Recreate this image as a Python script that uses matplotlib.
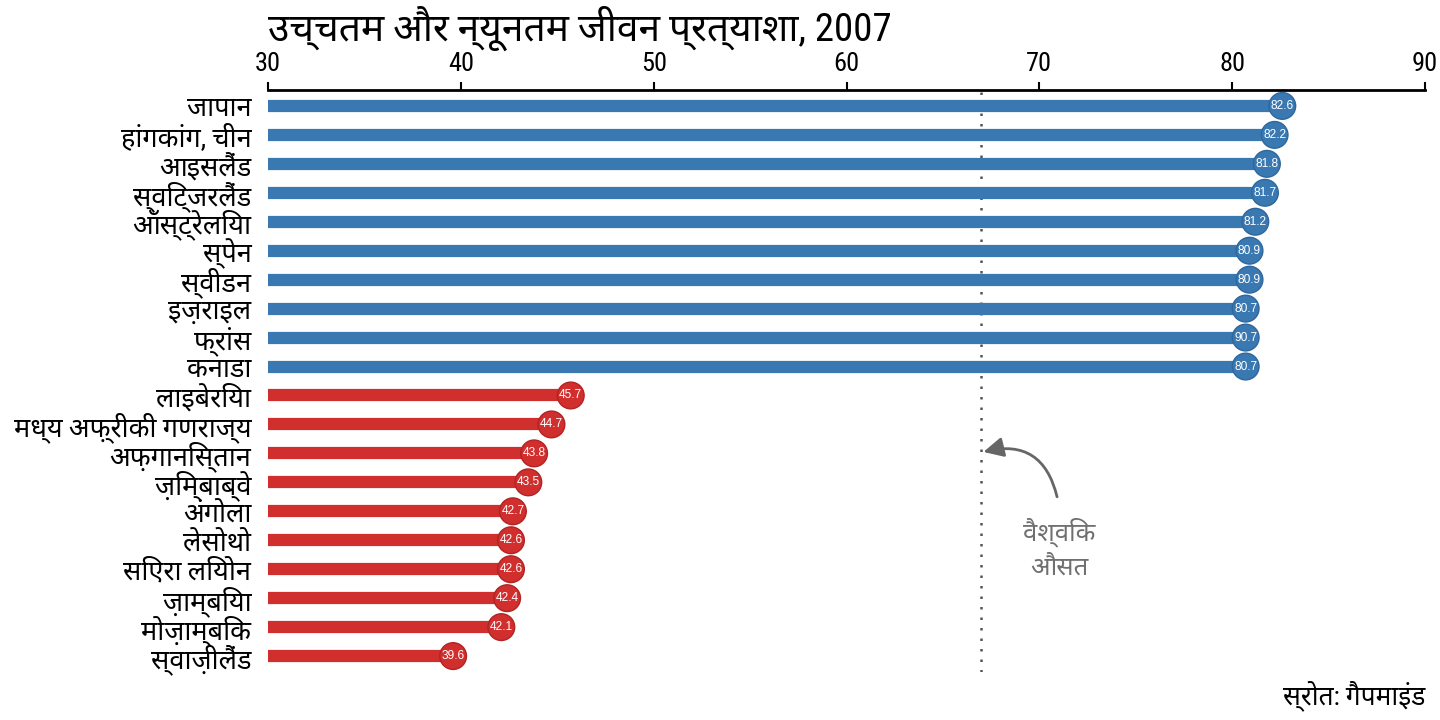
import matplotlib
matplotlib.use("Agg")
import matplotlib.pyplot as plt
from matplotlib import font_manager

# ---------------- data ----------------
countries_high = ["जापान", "हांगकांग, चीन", "आइसलैंड", "स्विट्जरलैंड", "ऑस्ट्रेलिया",
                  "स्पेन", "स्वीडन", "इज़राइल", "फ्रांस", "कनाडा"]
values_high = [82.6, 82.2, 81.8, 81.7, 81.2, 80.9, 80.9, 80.7, 80.7, 80.7]
labels_high = ["82.6", "82.2", "81.8", "81.7", "81.2", "80.9", "80.9", "80.7", "90.7", "80.7"]

countries_low = ["लाइबेरिया", "मध्य अफ़्रीकी गणराज्य", "अफ़गानिस्तान", "ज़िम्बाब्वे", "अंगोला",
                 "लेसोथो", "सिएरा लियोन", "ज़ाम्बिया", "मोज़ाम्बिक", "स्वाज़ीलैंड"]
values_low = [45.7, 44.7, 43.8, 43.5, 42.7, 42.6, 42.6, 42.4, 42.1, 39.6]
labels_low = ["45.7", "44.7", "43.8", "43.5", "42.7", "42.6", "42.6", "42.4", "42.1", "39.6"]

world_average = 67.0
x_ticks = [30, 40, 50, 60, 70, 80, 90]
title = "उच्चतम और न्यूनतम जीवन प्रत्याशा, 2007"
avg_label = "वैश्विक\nऔसत"
source = "स्रोत: गैपमाइंड"

# ---------------- fonts ----------------
available = {f.name for f in font_manager.fontManager.ttflist}
deva_pref = ["Noto Sans Devanagari", "Hind", "Mukta", "Ek Mukta", "Poppins", "FreeSans"]
deva = [f for f in deva_pref if f in available][:1]
latin_pref = ["Liberation Sans Narrow", "Arial Narrow", "Roboto Condensed", "Liberation Sans"]
latin = [f for f in latin_pref if f in available][:1]
fam = latin + deva + ["DejaVu Sans"]
plt.rcParams["font.family"] = fam

blue = "#3A78B2"
blue_edge = "#2F679C"
red = "#D12E2E"
red_edge = "#B02424"

fig = plt.figure(figsize=(14.4, 7.2), dpi=100)
ax = fig.add_axes([268 / 1440, 1 - 672 / 720, (1425 - 268) / 1440, (672 - 90) / 720])

countries = countries_high + countries_low
values = values_high + values_low
labels = labels_high + labels_low
colors = [blue] * len(values_high) + [red] * len(values_low)
edges = [blue_edge] * len(values_high) + [red_edge] * len(values_low)
ypos = list(range(len(countries)))

ax.axvline(world_average, color="#555555", linestyle=(0, (1, 3.2)), linewidth=1.8, zorder=1)
ax.hlines(ypos, 30, values, colors=colors, linewidth=8.8, zorder=2)
ax.scatter(values, ypos, s=370, c=colors, edgecolors=edges, linewidths=1.0, zorder=3)
for v, y, t in zip(values, ypos, labels):
    ax.text(v, y, t, color="white", fontsize=8.6, ha="center", va="center", zorder=4,
            family=["Liberation Sans", "DejaVu Sans"])

ax.set_xlim(30, 90)
ax.set_ylim(len(countries) - 0.45, -0.55)
ax.set_xticks(x_ticks)
ax.xaxis.tick_top()
ax.tick_params(axis="x", direction="out", length=6, width=1.5, labelsize=19, pad=4)
ax.set_yticks(ypos)
ax.set_yticklabels(countries, fontsize=19.5)
ax.tick_params(axis="y", length=0, pad=12)
for s in ["right", "bottom", "left"]:
    ax.spines[s].set_visible(False)
ax.spines["top"].set_linewidth(2)

# annotation for world average
ax.annotate("", xy=(67.1, 11.95), xytext=(70.92, 13.5),
            arrowprops=dict(arrowstyle="-|>,head_length=1.2,head_width=0.6",
                            color="#666666", lw=2,
                            connectionstyle="arc3,rad=0.5",
                            shrinkA=0, shrinkB=0))
ax.text(71.05, 15.27, avg_label, ha="center", va="center", fontsize=18.5,
        color="#707070", linespacing=1.45)

fig.text(268 / 1440, 1 - 28 / 720, title, fontsize=28, ha="left", va="center")
fig.text(1425 / 1440, 1 - 696 / 720, source, fontsize=19, ha="right", va="center")

fig.savefig("out.png", dpi=100, facecolor="white")
